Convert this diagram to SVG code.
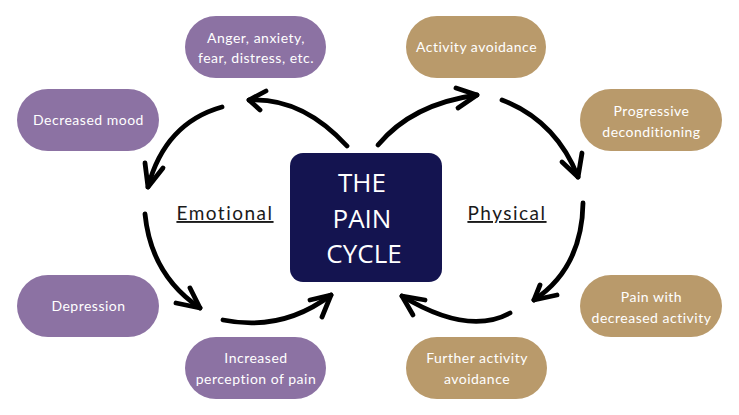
<svg xmlns="http://www.w3.org/2000/svg" width="739" height="415" viewBox="0 0 739 415">
<style>
.emo rect{fill:#8c72a3}
.phy rect{fill:#b99a6b}
.node text{font-family:Lato,"Noto Sans",sans-serif;font-size:14px;letter-spacing:0.5px;fill:#ffffff;text-anchor:middle}
.center rect{fill:#141450}
.center text{font-family:"Open Sans",sans-serif;font-size:26px;fill:#ffffff;text-anchor:middle}
.lbl{font-family:Lato,"Noto Sans",sans-serif;font-size:19px;letter-spacing:1.5px;fill:#1a1a1a;text-anchor:middle;text-decoration:underline}
.arc{fill:none;stroke:#000;stroke-width:4.8;stroke-linecap:round;stroke-linejoin:round}
</style>
<rect x="0" y="0" width="739" height="415" fill="#ffffff"/>

<g id="center" class="center">
<rect x="290" y="153" width="152" height="129" rx="13"/>
<text x="362" y="192">THE</text>
<text x="362" y="228">PAIN</text>
<text x="364" y="263">CYCLE</text>
</g>

<g id="anger" class="node emo">
<rect x="185" y="16" width="141" height="62" rx="31"/>
<text x="256" y="43">Anger, anxiety,</text>
<text x="256" y="63">fear, distress, etc.</text>
</g>
<g id="mood" class="node emo">
<rect x="17" y="89" width="142" height="62" rx="31"/>
<text x="88.5" y="125">Decreased mood</text>
</g>
<g id="depression" class="node emo">
<rect x="17" y="275" width="142" height="62" rx="31"/>
<text x="88.5" y="311">Depression</text>
</g>
<g id="perception" class="node emo">
<rect x="185" y="337" width="141" height="62" rx="31"/>
<text x="256" y="363">Increased</text>
<text x="256" y="384">perception of pain</text>
</g>

<g id="avoidance" class="node phy">
<rect x="406" y="16" width="140" height="62" rx="31"/>
<text x="476.5" y="52">Activity avoidance</text>
</g>
<g id="deconditioning" class="node phy">
<rect x="580" y="89" width="142" height="62" rx="31"/>
<text x="651.5" y="116">Progressive</text>
<text x="651.5" y="137">deconditioning</text>
</g>
<g id="painwith" class="node phy">
<rect x="580" y="275" width="142" height="62" rx="31"/>
<text x="651.5" y="302">Pain with</text>
<text x="651.5" y="323">decreased activity</text>
</g>
<g id="further" class="node phy">
<rect x="406" y="337" width="141" height="62" rx="31"/>
<text x="477" y="363">Further activity</text>
<text x="477" y="384">avoidance</text>
</g>

<g id="labels">
<text class="lbl" x="225" y="220">Emotional</text>
<text class="lbl" x="507" y="220">Physical</text>
</g>

<g id="connectors">
<path class="arc" d="M347,146 Q302,97 249,100"/>
<path class="arc" d="M266,91 L249,100 L260,110"/>
<path class="arc" d="M222,107 Q165,123 148,187"/>
<path class="arc" d="M145,163 L148,187 L163,168"/>
<path class="arc" d="M145,214 Q151,275 200,308"/>
<path class="arc" d="M176,303 L200,308 L190,288"/>
<path class="arc" d="M223,320 Q282,332 331,295"/>
<path class="arc" d="M310,300 L331,295 L322,317"/>
<path class="arc" d="M378,145 Q412,104 477,95"/>
<path class="arc" d="M456,88 L477,95 L458,108"/>
<path class="arc" d="M502,100 Q556,121 578,177"/>
<path class="arc" d="M562,162 L578,177 L582,153"/>
<path class="arc" d="M583,203 Q582,268 534,300"/>
<path class="arc" d="M540,285 L534,300 L557,295"/>
<path class="arc" d="M510,313 Q468,336 402,296"/>
<path class="arc" d="M425,300 L402,296 L413,315"/>
</g>
</svg>
